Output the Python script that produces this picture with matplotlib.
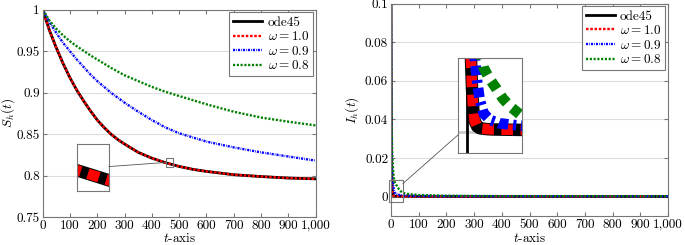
import numpy as np
import matplotlib
matplotlib.use('Agg')
import matplotlib.pyplot as plt
from matplotlib.patches import Rectangle, ConnectionPatch

plt.rcParams['font.family'] = ['cmr10', 'DejaVu Serif']
plt.rcParams['mathtext.fontset'] = 'cm'
plt.rcParams['axes.formatter.use_mathtext'] = True
plt.rcParams['font.size'] = 9.5

# S_h(t)
t_s = [0, 25, 50, 75, 100, 125, 150, 175, 200, 225, 250, 275, 300, 350, 400, 450, 500,
       550, 600, 700, 800, 900, 1000]
s_ode = [1.0, 0.975, 0.954, 0.935, 0.918, 0.903, 0.890, 0.878, 0.867, 0.858, 0.850, 0.8435,
         0.838, 0.828, 0.821, 0.8155, 0.811, 0.8075, 0.805, 0.801, 0.7988, 0.797, 0.796]
s_w10 = s_ode
s_w09 = [1.0, 0.985, 0.972, 0.960, 0.950, 0.940, 0.931, 0.922, 0.914, 0.907, 0.900, 0.894,
         0.888, 0.877, 0.867, 0.858, 0.851, 0.846, 0.841, 0.834, 0.828, 0.823, 0.818]
s_w08 = [1.0, 0.987, 0.977, 0.969, 0.962, 0.956, 0.9505, 0.945, 0.940, 0.935, 0.930, 0.9255,
         0.921, 0.914, 0.907, 0.901, 0.896, 0.891, 0.886, 0.877, 0.870, 0.865, 0.8605]

# I_h(t)
t_i10 = [0, 0.5, 1, 1.5, 2, 3, 4, 5, 6, 8, 10, 15, 20, 40, 100, 300, 1000]
i_w10 = [0.1, 0.06, 0.035, 0.022, 0.015, 0.0095, 0.005, 0.0025, 0.0013, 0.0006, 0.0004,
         0.0003, 0.00025, 0.0002, 0.00015, 0.0001, 0.0001]
t_i09 = [0, 1, 2, 3, 4, 5, 6, 8, 10, 13, 18, 25, 36, 50, 100, 200, 500, 1000]
i_w09 = [0.1, 0.05, 0.03, 0.02, 0.014, 0.011, 0.009, 0.006, 0.0038, 0.0022, 0.0014, 0.001,
         0.0008, 0.0006, 0.0004, 0.0003, 0.0002, 0.00015]
t_i08 = [0, 1, 2, 4, 6, 8, 10, 13, 18, 23, 28, 34, 42, 60, 100, 200, 400, 1000]
i_w08 = [0.1, 0.06, 0.04, 0.025, 0.018, 0.013, 0.01, 0.0077, 0.0063, 0.0052, 0.004, 0.003,
         0.002, 0.0014, 0.0009, 0.0005, 0.0003, 0.0002]

xticks = [0, 100, 200, 300, 400, 500, 600, 700, 800, 900, 1000]
xticklabels = ['0', '100', '200', '300', '400', '500', '600', '700', '800', '900', '1,000']
s_yticks = [0.75, 0.8, 0.85, 0.9, 0.95, 1.0]
s_yticklabels = ['0.75', '0.8', '0.85', '0.9', '0.95', '1']
i_yticks = [0, 0.02, 0.04, 0.06, 0.08, 0.1]
i_yticklabels = ['0', '0.02', '0.04', '0.06', '0.08', '0.1']

labels = ['ode45', r'$\omega = 1.0$', r'$\omega = 0.9$', r'$\omega = 0.8$']
colors = ['black', 'red', 'blue', 'green']
dashes = [None, (1.1, 0.7), (0.9, 0.45, 0.3, 0.45), (0.9, 0.7)]
widths = [2.0, 1.7, 1.7, 1.7]

frame = '#777777'


def draw(ax, ts, ys, scale=1.0):
    for t, y, c, d, w, l in zip(ts, ys, colors, dashes, widths, labels):
        line, = ax.plot(t, y, color=c, lw=w * scale, label=l)
        if d is not None:
            line.set_dashes(d)


def style(ax, xlab_y, ylab_x):
    for s in ax.spines.values():
        s.set_color(frame)
        s.set_linewidth(0.8)
    ax.tick_params(direction='in', length=3, color=frame, top=True, right=True,
                   labelsize=9.5, pad=2)
    ax.grid(axis='y', color='#dddddd', lw=0.8)
    ax.set_axisbelow(True)
    ax.xaxis.label.set_va('center')
    ax.yaxis.label.set_va('center')
    ax.xaxis.set_label_coords(0.5, xlab_y)
    ax.yaxis.set_label_coords(ylab_x, 0.5)


def legend(ax):
    leg = ax.legend(loc='upper right', fontsize=9.5, handlelength=2.2, labelspacing=0.12,
                    borderpad=0.3, handletextpad=0.4, fancybox=False, framealpha=1,
                    edgecolor=frame, borderaxespad=0.2)
    leg.get_frame().set_linewidth(0.8)


def inset_frame(ax):
    ax.set_xticks([])
    ax.set_yticks([])
    for s in ax.spines.values():
        s.set_color(frame)
        s.set_linewidth(0.8)


fig = plt.figure(figsize=(6.85, 2.45), dpi=100)

# left panel
ax1 = fig.add_axes([0.0623, 0.1143, 0.3985, 0.8457])
draw(ax1, [t_s] * 4, [s_ode, s_w10, s_w09, s_w08])
ax1.set_xlim(0, 1000)
ax1.set_ylim(0.75, 1.0)
ax1.set_xticks(xticks, xticklabels)
ax1.set_yticks(s_yticks, s_yticklabels)
ax1.set_xlabel('$t$-axis')
ax1.set_ylabel('$S_h(t)$')
style(ax1, -0.106, -0.128)
legend(ax1)

zx1, zy1 = (451, 477), (0.8106, 0.8216)
ax1.add_patch(Rectangle((zx1[0], zy1[0]), zx1[1] - zx1[0], zy1[1] - zy1[0],
                        fill=False, ec=frame, lw=0.8, zorder=5))
ins1 = fig.add_axes([77.3 / 685, (245 - 190.7) / 245, 31.4 / 685, 46.4 / 245])
draw(ins1, [t_s] * 4, [s_ode, s_w10, s_w09, s_w08], scale=4.5)
ins1.set_xlim(*zx1)
ins1.set_ylim(*zy1)
inset_frame(ins1)
fig.add_artist(ConnectionPatch(xyA=(1.0, 0.52), coordsA=ins1.transAxes,
                               xyB=(zx1[0], 0.8158), coordsB=ax1.transData,
                               color='#555555', lw=0.6))

# right panel
ax2 = fig.add_axes([0.5708, 0.1184, 0.4044, 0.8666])
draw(ax2, [t_i10, t_i10, t_i09, t_i08], [i_w10, i_w10, i_w09, i_w08])
ax2.set_xlim(0, 1000)
ax2.set_ylim(-0.01, 0.1)
ax2.set_xticks(xticks, xticklabels)
ax2.set_yticks(i_yticks, i_yticklabels)
ax2.set_xlabel('$t$-axis')
ax2.set_ylabel('$I_h(t)$')
style(ax2, -0.106, -0.141)
legend(ax2)

zx2, zy2 = (-7, 43), (-0.0026, 0.0089)
ax2.add_patch(Rectangle((zx2[0], zy2[0]), zx2[1] - zx2[0], zy2[1] - zy2[0],
                        fill=False, ec=frame, lw=0.8, zorder=5, clip_on=False))
ins2 = fig.add_axes([458 / 685, (245 - 153) / 245, 64 / 685, 95 / 245])
ins2.axhline(0, color='#cccccc', lw=2)
ins2.axvline(0, color='black', lw=2)
draw(ins2, [t_i10, t_i10, t_i09, t_i08], [i_w10, i_w10, i_w09, i_w08], scale=4.5)
ins2.set_xlim(*zx2)
ins2.set_ylim(*zy2)
inset_frame(ins2)
fig.add_artist(ConnectionPatch(xyA=(0.0, 0.19), coordsA=ins2.transAxes,
                               xyB=(zx2[1], 0.0068), coordsB=ax2.transData,
                               color='#555555', lw=0.6))

fig.savefig('out.png', dpi=100)
